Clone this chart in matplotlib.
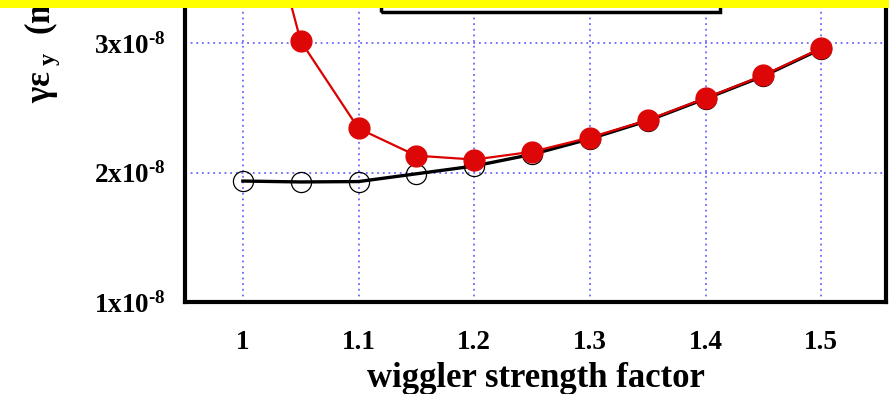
import numpy as np
import matplotlib
matplotlib.use("Agg")
import matplotlib.pyplot as plt
from matplotlib.patches import Rectangle
from matplotlib.ticker import FixedLocator, FuncFormatter

# wiggler strength factor
x_vals = [1.0, 1.05, 1.1, 1.15, 1.2, 1.25, 1.3, 1.35, 1.4, 1.45, 1.5]
# open black circles
eps_black = [1.934e-8, 1.927e-8, 1.93e-8, 1.99e-8, 2.05e-8, 2.14e-8,
             2.26e-8, 2.40e-8, 2.57e-8, 2.745e-8, 2.955e-8]
# filled red circles
eps_red = [4.7e-8, 3.015e-8, 2.34e-8, 2.13e-8, 2.10e-8, 2.16e-8,
           2.27e-8, 2.405e-8, 2.575e-8, 2.75e-8, 2.96e-8]

x_ticks = [1.0, 1.1, 1.2, 1.3, 1.4, 1.5]
x_ticklabels = ["1", "1.1", "1.2", "1.3", "1.4", "1.5"]
y_ticks = [1e-8, 2e-8, 3e-8]

plt.rcParams["font.family"] = ["Liberation Serif", "DejaVu Serif"]
plt.rcParams["font.weight"] = "bold"
plt.rcParams["mathtext.fontset"] = "custom"
plt.rcParams["mathtext.rm"] = "Liberation Serif:bold"
plt.rcParams["mathtext.bf"] = "Liberation Serif:bold"
plt.rcParams["mathtext.it"] = "Liberation Serif:bold:italic"
plt.rcParams["mathtext.default"] = "rm"

W, H = 889, 394
fig = plt.figure(figsize=(W / 100, H / 100), dpi=100)
# axes extend above the visible canvas (the reference is cropped at the top)
left, right, bottom_px, top_px = 185, 886, 302, -216
ax = fig.add_axes([left / W, (H - bottom_px) / H, (right - left) / W,
                   (bottom_px - top_px) / H])

ax.plot(x_vals, eps_black, color="black", lw=2.4, marker="o", ms=14.5,
        mfc="none", mec="black", mew=0.9, zorder=3)
ax.plot(x_vals, eps_red, color="#dd0000", lw=1.6, marker="o", ms=15,
        mfc="#dd0707", mec="#dd0707", zorder=4)

ax.set_xlim(0.95, 1.556)
ax.set_ylim(1e-8, 5e-8)

ax.xaxis.set_major_locator(FixedLocator(x_ticks))
ax.set_xticklabels(x_ticklabels)
ax.yaxis.set_major_locator(FixedLocator(y_ticks))
# gnuplot-style label with a short hyphen in the exponent
ax.yaxis.set_major_formatter(FuncFormatter(
    lambda v, p: "$%dx10^{\u2010 8}$" % round(v / 1e-8)))
ax.tick_params(length=0, labelsize=19.5)
ax.tick_params(axis="x", pad=20)
ax.tick_params(axis="y", pad=14)

ax.grid(True, color="#5050ff", linestyle=(0, (1.2, 2.5)), lw=1.1)
for s in ax.spines.values():
    s.set_linewidth(3)

ax.set_xlabel("wiggler strength factor", fontsize=25, fontweight="bold")
ax.xaxis.set_label_coords(0.5, -0.115)
ax.set_ylabel(r"γε$_{\ y}$  (m)", fontsize=25, fontweight="bold")
ax.yaxis.label.set_ha("left")
ax.yaxis.set_label_coords(-0.176, 0.384)

# legend frame (only its lower edge is visible in the crop)
fig.patches.append(Rectangle((381 / W, 1 - 12 / H), (720 - 381) / W, 0.2,
                             transform=fig.transFigure, fill=False,
                             edgecolor="black", lw=2.5, zorder=5))
# yellow band at the top
fig.patches.append(Rectangle((0, 1 - 8 / H), 1, 8 / H, transform=fig.transFigure,
                             facecolor="#ffff00", edgecolor="none", zorder=10))

fig.savefig("out.png", dpi=100)
